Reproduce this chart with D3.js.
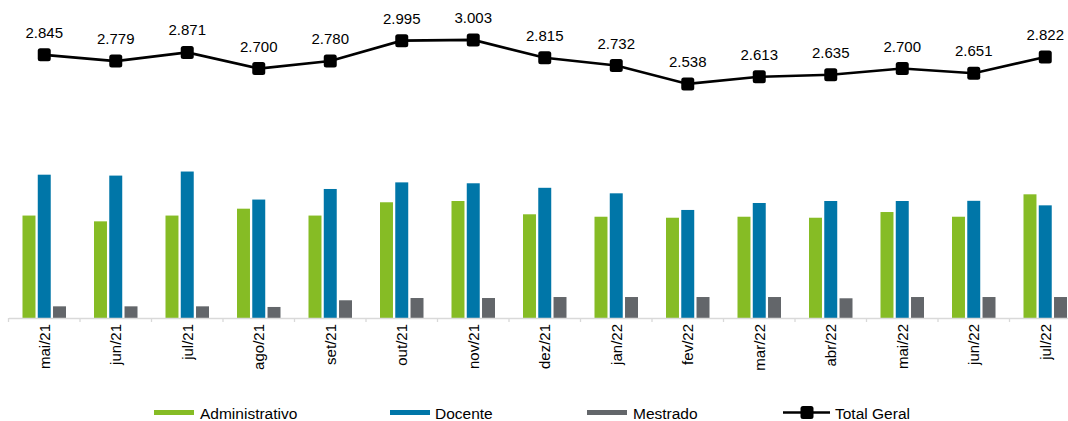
<!DOCTYPE html>
<html>
<head>
<meta charset="utf-8">
<script src="https://cdn.jsdelivr.net/npm/d3@7"></script>
<style>
  body { margin: 0; background: #fff; }
  svg { display: block; font-family: "Liberation Sans", Arial, sans-serif; }
</style>
</head>
<body>
<div id="chart"></div>
<script>
// data
const months = ['mai/21', 'jun/21', 'jul/21', 'ago/21', 'set/21', 'out/21', 'nov/21', 'dez/21',
                'jan/22', 'fev/22', 'mar/22', 'abr/22', 'mai/22', 'jun/22', 'jul/22'];
const administrativo = [1133, 1069, 1133, 1209, 1133, 1280, 1294, 1147, 1120, 1109, 1120, 1109, 1172, 1120, 1368];
const docente = [1585, 1575, 1620, 1310, 1427, 1500, 1490, 1440, 1379, 1195, 1272, 1294, 1294, 1296, 1246];
const mestrado = [129, 129, 129, 122, 196, 221, 221, 232, 232, 232, 232, 218, 232, 232, 232];
const totalGeral = [2845, 2779, 2871, 2700, 2780, 2995, 3003, 2815, 2732, 2538, 2613, 2635, 2700, 2651, 2822];
const seriesNames = ['Administrativo', 'Docente', 'Mestrado'];
const colors = ['#86BC25', '#0076A8', '#63666A'];

const width = 1068, height = 421;
const svg = d3.select('#chart')
    .append('svg')
    .attr('width', width)
    .attr('height', height);

// scales
const x0 = d3.scaleBand()
    .domain(months)
    .range([8.5, 8.5 + 15 * 71.5])
    .padding(0);
const x1 = d3.scaleBand()
    .domain(seriesNames)
    .range([14, 57.5])
    .paddingInner(0.15);
const yBar = d3.scaleLinear()
    .domain([0, 3500])
    .range([318, 318 - 3500 / 11.06]);
const yLine = d3.scaleLinear()
    .domain([0, 3500])
    .range([324, 324 - 3500 / 10.57]);

// bars
const rows = months.map((m, i) => ({
    month: m,
    values: [administrativo[i], docente[i], mestrado[i]]
}));
const groups = svg.append('g')
    .selectAll('g')
    .data(rows)
    .join('g')
    .attr('transform', d => `translate(${x0(d.month)},0)`);
groups.selectAll('rect')
    .data(d => d.values.map((v, j) => ({ key: seriesNames[j], value: v, color: colors[j] })))
    .join('rect')
    .attr('x', d => x1(d.key))
    .attr('width', x1.bandwidth())
    .attr('y', d => yBar(d.value))
    .attr('height', d => yBar(0) - yBar(d.value))
    .attr('fill', d => d.color);

// x axis
const xAxis = d3.axisBottom(x0).tickSize(0).tickPadding(0);
const xAxisGroup = svg.append('g')
    .attr('transform', `translate(0, ${yBar(0)})`)
    .call(xAxis);
xAxisGroup.select('.domain').attr('stroke', '#d9d9d9').attr('stroke-width', 1.3);
xAxisGroup.selectAll('.tick text')
    .attr('transform', 'rotate(-90)')
    .attr('x', -6)
    .attr('y', 0)
    .attr('dy', '0.35em')
    .style('text-anchor', 'end')
    .style('font-size', '15px')
    .style('font-family', '"Liberation Sans", Arial, sans-serif')
    .attr('fill', '#000');
// boundary tick marks
const bounds = months.map(m => x0(m)).concat([x0.range()[1]]);
xAxisGroup.selectAll('.bound')
    .data(bounds)
    .join('line')
    .attr('class', 'bound')
    .attr('x1', d => d).attr('x2', d => d)
    .attr('y1', 0).attr('y2', 4)
    .attr('stroke', '#d9d9d9')
    .attr('stroke-width', 1.3);

// total line
const cx = m => x0(m) + x0.bandwidth() / 2;
const line = d3.line()
    .x((d, i) => cx(months[i]))
    .y(d => yLine(d));
svg.append('path')
    .datum(totalGeral)
    .attr('d', line)
    .attr('fill', 'none')
    .attr('stroke', '#000')
    .attr('stroke-width', 2.6);
svg.append('g')
    .selectAll('rect')
    .data(totalGeral)
    .join('rect')
    .attr('x', (d, i) => cx(months[i]) - 6.5)
    .attr('y', d => yLine(d) - 6.5)
    .attr('width', 13)
    .attr('height', 13)
    .attr('rx', 2.5)
    .attr('fill', '#000');
svg.append('g')
    .selectAll('text')
    .data(totalGeral)
    .join('text')
    .attr('x', (d, i) => cx(months[i]))
    .attr('y', d => yLine(d) - 17)
    .attr('text-anchor', 'middle')
    .style('font-size', '15px')
    .attr('fill', '#000')
    .text(d => d3.format(',')(d).replace(',', '.'));

// legend
const legendItems = [
    { name: 'Administrativo', color: colors[0], x: 154, tx: 200 },
    { name: 'Docente', color: colors[1], x: 390, tx: 435 },
    { name: 'Mestrado', color: colors[2], x: 587, tx: 633 }
];
const legend = svg.append('g');
legendItems.forEach(it => {
    legend.append('rect')
        .attr('x', it.x).attr('y', 410)
        .attr('width', 40).attr('height', 5)
        .attr('fill', it.color);
    legend.append('text')
        .attr('x', it.tx).attr('y', 419)
        .style('font-size', '15.5px')
        .attr('fill', '#000')
        .text(it.name);
});
legend.append('line')
    .attr('x1', 783).attr('x2', 830)
    .attr('y1', 412.5).attr('y2', 412.5)
    .attr('stroke', '#000').attr('stroke-width', 2.6);
legend.append('rect')
    .attr('x', 800.5).attr('y', 406)
    .attr('width', 13).attr('height', 13)
    .attr('rx', 2.5)
    .attr('fill', '#000');
legend.append('text')
    .attr('x', 835).attr('y', 419)
    .style('font-size', '15.5px')
    .attr('fill', '#000')
    .text('Total Geral');
</script>
</body>
</html>
